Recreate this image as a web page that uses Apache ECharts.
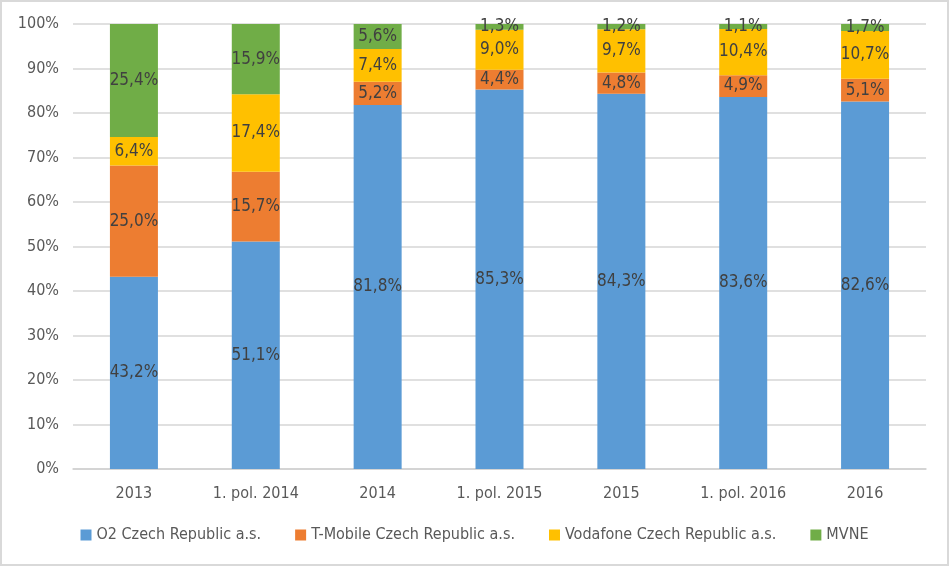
<!DOCTYPE html>
<html><head><meta charset="utf-8">
<script src="https://cdn.jsdelivr.net/npm/echarts@6/dist/echarts.min.js"></script>
<style>html,body{margin:0;padding:0;background:#fff}#c{width:949px;height:566px;box-sizing:border-box;border:2px solid #d9d9d9}</style>
</head><body><div id="c"></div>
<script>
const categories = ['2013','1. pol. 2014','2014','1. pol. 2015','2015','1. pol. 2016','2016'];
const o2 = [43.2, 51.1, 81.8, 85.3, 84.3, 83.6, 82.6];
const tmobile = [25.0, 15.7, 5.2, 4.4, 4.8, 4.9, 5.1];
const vodafone = [6.4, 17.4, 7.4, 9.0, 9.7, 10.4, 10.7];
const mvne = [25.4, 15.9, 5.6, 1.3, 1.2, 1.1, 1.7];
const seriesNames = ['O2 Czech Republic a.s.','T-Mobile Czech Republic a.s.','Vodafone Czech Republic a.s.','MVNE'];
const colors = ['#5b9bd5','#ed7d31','#ffc000','#70ad47'];
const FONT = '"Liberation Sans Narrow", "DejaVu Sans Condensed", "Open Sans", sans-serif';
const chart = echarts.init(document.getElementById('c'));
const fmt = p => p.value.toFixed(1).replace('.', ',') + '%';
const mk = (name, data, i) => ({
  name, type: 'bar', stack: 'a', data, barWidth: 48,
  itemStyle: {color: colors[i]},
  label: {show: true, position: 'inside', formatter: fmt, color: '#404040', fontSize: 17, fontFamily: FONT},
  emphasis: {disabled: true}
});
chart.setOption({
  animation: false,
  textStyle: {fontFamily: FONT},
  grid: {left: 71, right: 21, top: 22, bottom: 95, containLabel: false},
  legend: {
    bottom: 16, left: 'center', itemWidth: 11, itemHeight: 11, itemGap: 34,
    icon: 'rect', textStyle: {color: '#595959', fontSize: 16, fontFamily: FONT},
    data: seriesNames
  },
  xAxis: {
    type: 'category', data: categories,
    axisLine: {lineStyle: {color: '#d0d0d0', width: 1.5}},
    axisTick: {show: false},
    axisLabel: {color: '#595959', fontSize: 16, margin: 17, fontFamily: FONT}
  },
  yAxis: {
    type: 'value', min: 0, max: 100, interval: 10,
    axisLine: {show: false}, axisTick: {show: false},
    splitLine: {lineStyle: {color: '#d6d6d6', width: 1.5}},
    axisLabel: {color: '#595959', fontSize: 16, margin: 14, formatter: v => v + '%', fontFamily: FONT}
  },
  series: [mk(seriesNames[0], o2, 0), mk(seriesNames[1], tmobile, 1), mk(seriesNames[2], vodafone, 2), mk(seriesNames[3], mvne, 3)]
});
</script></body></html>
